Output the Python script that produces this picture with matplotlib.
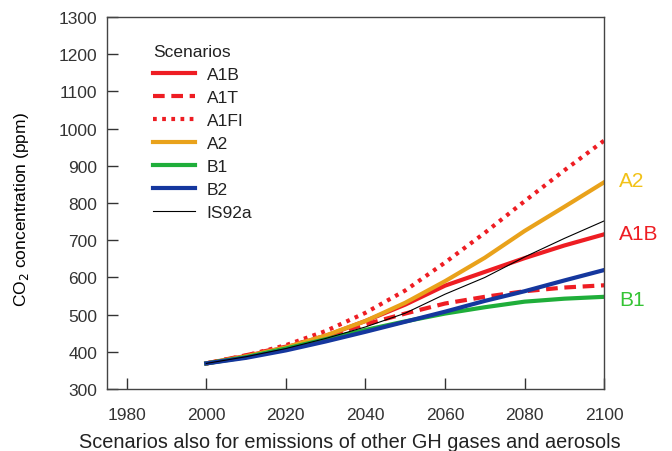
import matplotlib.pyplot as plt
import matplotlib as mpl

mpl.rcParams['font.family'] = ['Liberation Sans', 'DejaVu Sans']
mpl.rcParams['text.color'] = '#222222'

# Data
years = [2000, 2010, 2020, 2030, 2040, 2050, 2060, 2070, 2080, 2090, 2100]
a1b = [369, 389, 412, 443, 483, 527, 578, 615, 652, 686, 716]
a1t = [369, 391, 414, 443, 474, 503, 530, 548, 563, 573, 579]
a1fi = [369, 390, 418, 456, 505, 565, 640, 720, 805, 888, 968]
a2 = [369, 388, 412, 444, 483, 532, 590, 653, 725, 790, 856]
b1 = [369, 386, 409, 434, 459, 482, 503, 520, 535, 543, 548]
b2 = [369, 384, 404, 428, 454, 481, 508, 537, 563, 592, 620]
is92a = [369, 387, 409, 436, 467, 504, 555, 600, 655, 705, 752]

RED = '#EE1D23'
ORANGE = '#E9A21B'
GREEN = '#1FAE3A'
BLUE = '#15379E'

fig = plt.figure(figsize=(6.72, 4.52), dpi=100)
ax = fig.add_axes([0.159, 0.137, 0.740, 0.823])

ax.plot(years, a1b, color=RED, lw=3, label='A1B')
ax.plot(years, a1t, color=RED, lw=3, ls=(0, (2.8, 1.6)), label='A1T')
ax.plot(years, a1fi, color=RED, lw=3, ls=(0, (0.9, 1.3)), label='A1FI')
ax.plot(years, a2, color=ORANGE, lw=3, label='A2')
ax.plot(years, b1, color=GREEN, lw=3, label='B1')
ax.plot(years, b2, color=BLUE, lw=3, label='B2')
ax.plot(years, is92a, color='black', lw=0.8, label='IS92a')

ax.set_xlim(1975, 2100)
ax.set_ylim(300, 1300)
ax.set_xticks([1980, 2000, 2020, 2040, 2060, 2080, 2100])
ax.set_yticks(range(300, 1301, 100))
ax.tick_params(direction='in', length=8, width=1, labelsize=12.5,
               colors='#333333', pad=7)
ax.tick_params(axis='x', pad=13)
for s in ax.spines.values():
    s.set_color('#444444')
    s.set_linewidth(1)

ax.set_ylabel('CO$_2$ concentration (ppm)', fontsize=12.5)
ax.yaxis.set_label_coords(-0.153, 0.484)
fig.text(0.521, 0.02, 'Scenarios also for emissions of other GH gases and aerosols',
         ha='center', va='center', fontsize=14.3)

leg = ax.legend(loc='upper left', bbox_to_anchor=(0.2146, 0.919), bbox_transform=fig.transFigure,
                title='Scenarios', frameon=False, fontsize=12.5, title_fontsize=12.5,
                handlelength=2.4, handletextpad=0.7, labelspacing=0.45,
                alignment='left', borderpad=0)

# End labels on the right
ax.text(1.03, (862 - 300) / 1000, 'A2', transform=ax.transAxes, color='#F2C218',
        fontsize=15, va='center', ha='left')
ax.text(1.03, (719 - 300) / 1000, 'A1B', transform=ax.transAxes, color=RED,
        fontsize=15, va='center', ha='left')
ax.text(1.03, (542 - 300) / 1000, 'B1', transform=ax.transAxes, color='#35C435',
        fontsize=15, va='center', ha='left')

fig.savefig('out.png', dpi=100)
